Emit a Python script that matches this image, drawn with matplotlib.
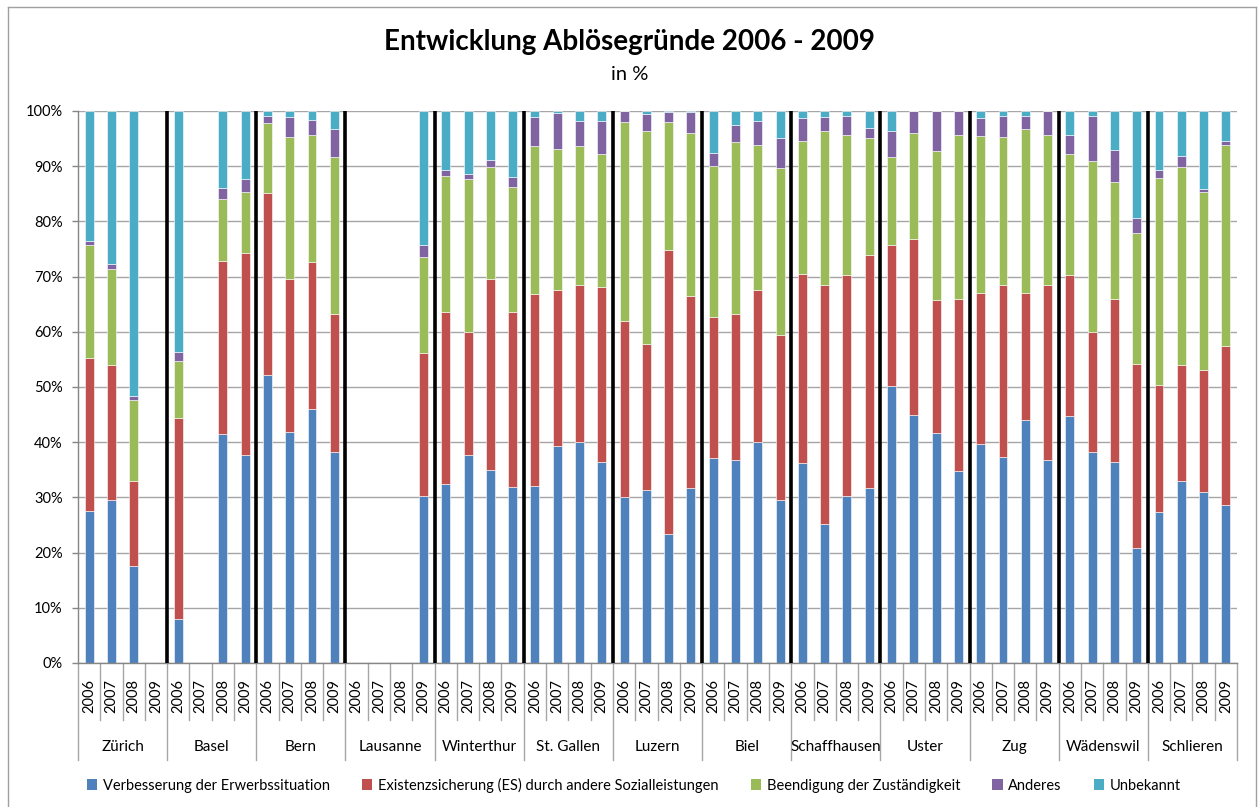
import numpy as np
import matplotlib.pyplot as plt
import matplotlib.transforms as mtransforms
from matplotlib.patches import Patch

plt.rcParams['font.family'] = ['Lato', 'DejaVu Sans']

# categories: 13 cities x 4 years
cities = ["Zürich", "Basel", "Bern", "Lausanne", "Winterthur", "St. Gallen", "Luzern",
          "Biel", "Schaffhausen", "Uster", "Zug", "Wädenswil", "Schlieren"]
years = ["2006", "2007", "2008", "2009"]

# shares in % per bar (city order, 2006..2009); 0 = no data
erwerb = [27.5, 29.6, 17.5, 0,    8.0, 0, 41.4, 37.7,    52.1, 41.9, 46.1, 38.2,
          0, 0, 0, 30.3,    32.4, 37.7, 34.9, 31.9,    32.1, 39.3, 40.1, 36.4,
          30.1, 31.3, 23.4, 31.7,    37.1, 36.8, 40.1, 29.6,    36.2, 25.1, 30.3, 31.7,
          50.2, 44.9, 41.6, 34.8,    39.6, 37.3, 44.0, 36.8,    44.7, 38.2, 36.5, 20.8,
          27.3, 33.0, 30.9, 28.7]
existenz = [27.8, 24.3, 15.5, 0,    36.4, 0, 31.4, 36.6,    33.0, 27.6, 26.6, 25.1,
            0, 0, 0, 25.9,    31.1, 22.3, 34.6, 31.6,    34.7, 28.2, 28.3, 31.7,
            31.8, 26.4, 51.5, 34.7,    25.5, 26.5, 27.4, 29.9,    34.2, 43.3, 39.9, 42.2,
            25.6, 32.0, 24.2, 31.2,    27.4, 31.1, 23.1, 31.7,    25.5, 21.8, 29.5, 33.4,
            23.1, 20.9, 22.1, 28.7]
beendigung = [20.4, 17.5, 14.7, 0,    10.3, 0, 11.3, 11.0,    12.7, 25.8, 23.0, 28.3,
              0, 0, 0, 17.3,    24.8, 27.6, 20.4, 22.7,    26.9, 25.7, 25.3, 24.1,
              36.1, 38.7, 23.1, 29.6,    27.5, 31.0, 26.3, 30.2,    24.1, 28.0, 25.5, 21.2,
              15.8, 19.1, 27.0, 29.7,    28.5, 26.9, 29.7, 27.2,    22.0, 31.0, 21.2, 23.7,
              37.5, 36.0, 32.3, 36.4]
anderes = [0.7, 0.8, 0.6, 0,    1.7, 0, 1.9, 2.3,    1.3, 3.6, 2.7, 5.2,
           0, 0, 0, 2.2,    1.0, 0.9, 1.3, 1.8,    5.3, 6.5, 4.5, 5.9,
           2.0, 3.1, 1.9, 3.9,    2.3, 3.1, 4.4, 5.4,    4.2, 2.6, 3.4, 1.9,
           4.8, 4.0, 7.2, 4.3,    3.2, 3.8, 2.3, 4.3,    3.5, 8.1, 5.7, 2.8,
           1.4, 1.9, 0.5, 0.7]
unbekannt = [23.6, 27.8, 51.7, 0,    43.6, 0, 14.0, 12.4,    0.9, 1.1, 1.6, 3.2,
             0, 0, 0, 24.3,    10.7, 11.5, 8.8, 12.0,    1.0, 0.3, 1.8, 1.9,
             0.0, 0.5, 0.1, 0.1,    7.6, 2.6, 1.8, 4.9,    1.3, 1.0, 0.9, 3.0,
             3.6, 0.0, 0.0, 0.0,    1.3, 0.9, 0.9, 0.0,    4.3, 0.9, 7.1, 19.3,
             10.7, 8.2, 14.2, 5.5]

series_names = ["Verbesserung der Erwerbssituation",
                "Existenzsicherung (ES) durch andere Sozialleistungen",
                "Beendigung der Zuständigkeit", "Anderes", "Unbekannt"]
colors = ["#4F81BD", "#C0504D", "#9BBB59", "#8064A2", "#4BACC6"]

W, H = 1259, 807
fig = plt.figure(figsize=(W / 100, H / 100), dpi=100)

# chart frame (bottom edge is outside the picture)
frame_col = "#A0A0A0"
fig.add_artist(plt.Line2D([8 / W, 8 / W], [0, 1 - 7 / H], color=frame_col, lw=1))
fig.add_artist(plt.Line2D([8 / W, 1256 / W], [1 - 7 / H, 1 - 7 / H], color=frame_col, lw=1))
fig.add_artist(plt.Line2D([1256 / W, 1256 / W], [0, 1 - 7 / H], color=frame_col, lw=1))

ax = fig.add_axes([78 / W, (H - 663) / H, (1237 - 78) / W, (663 - 111) / H])

x = np.arange(len(cities) * len(years))
bottom = np.zeros(len(x))
for vals, name, c in zip([erwerb, existenz, beendigung, anderes, unbekannt], series_names, colors):
    v = np.array(vals, dtype=float)
    ax.bar(x, v, 0.40, bottom=bottom, color=c, edgecolor="white", linewidth=0.4, label=name)
    bottom += v

ax.set_xlim(-0.5, len(x) - 0.5)
ax.set_ylim(0, 100)
ax.set_yticks(np.arange(0, 101, 10))
ax.set_yticklabels([f"{t}%" for t in range(0, 101, 10)], fontsize=10.5)
ax.tick_params(axis="y", length=4, width=1, color="#868686", pad=7)
ax.grid(axis="y", color="#A6A6A6", lw=1)
ax.set_axisbelow(True)
ax.set_xticks([])
for s in ["top", "right"]:
    ax.spines[s].set_visible(False)
for s in ["left", "bottom"]:
    ax.spines[s].set_color("#868686")
    ax.spines[s].set_linewidth(1)

# black separators between cities
for k in range(1, len(cities)):
    ax.axvline(4 * k - 0.5, color="black", lw=2.6, zorder=5)

# multi-level category axis: years, then cities
trans = mtransforms.blended_transform_factory(ax.transData, ax.transAxes)
for i in x:
    ax.text(i, -0.06, years[i % 4], rotation=90, ha="center", va="center",
            fontsize=10.5, transform=trans)
for b in range(len(x) + 1):
    ylow = -0.176 if b % 4 == 0 else -0.103
    ax.plot([b - 0.5, b - 0.5], [0, ylow], color="#A6A6A6", lw=1,
            transform=trans, clip_on=False)
for j, city in enumerate(cities):
    ax.text(4 * j + 1.5, -0.152, city, ha="center", va="center", fontsize=11,
            transform=trans)

fig.text(0.5, 1 - 42 / H, "Entwicklung Ablösegründe 2006 - 2009", ha="center", va="center",
         fontsize=20, fontweight="bold")
fig.text(0.5, 1 - 75 / H, "in %", ha="center", va="center", fontsize=14.5)

handles = [Patch(facecolor=c, edgecolor="none") for c in colors]
fig.legend(handles, series_names, loc="center", bbox_to_anchor=(634 / W, 1 - 785 / H),
           ncol=5, frameon=False, fontsize=10.5, handlelength=0.7, handleheight=0.7,
           handletextpad=0.4, columnspacing=2.2)

fig.savefig("out.png", dpi=100)
